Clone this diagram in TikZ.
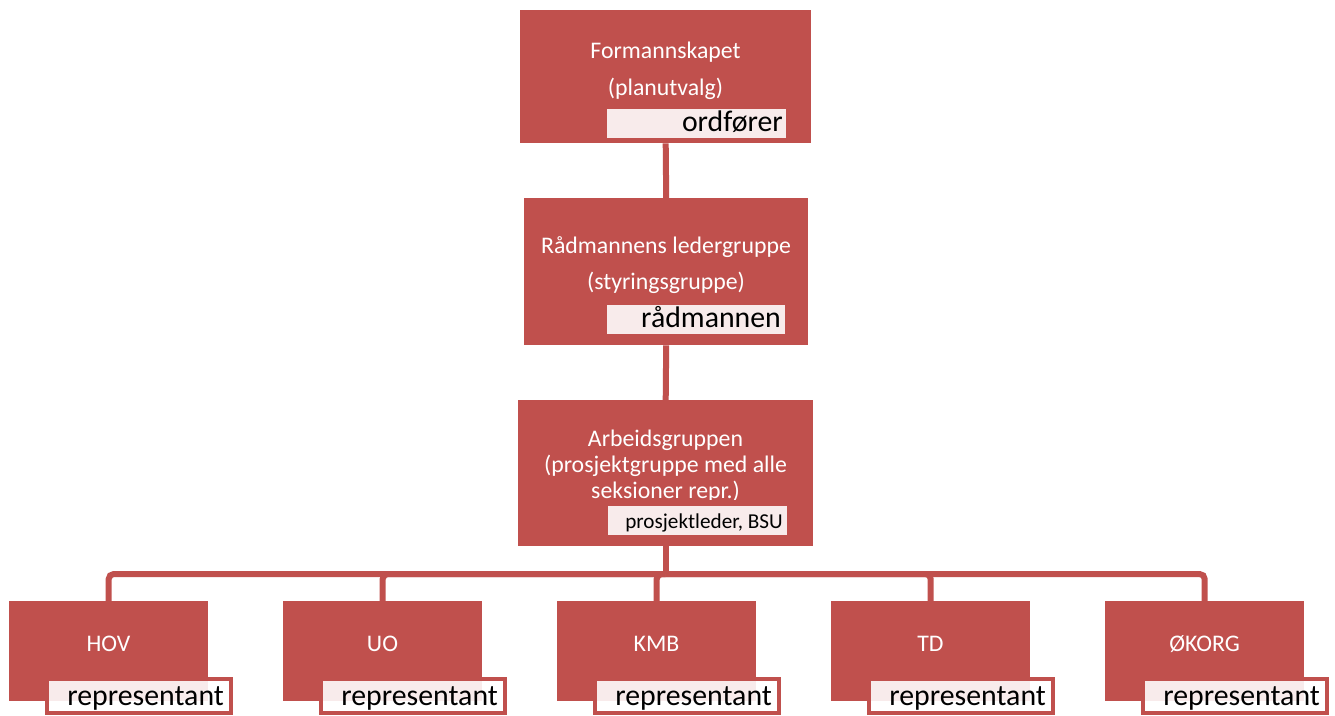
\documentclass[tikz,border=0pt]{standalone}
\usepackage{fontspec}
\setmainfont{Carlito}
\definecolor{boxred}{HTML}{C0504D}
\begin{document}
\begin{tikzpicture}[x=1pt,y=1pt,
  box/.style={fill=boxred, draw=none, inner sep=0pt, anchor=north west},
  wtext/.style={text=white, font=\fontsize{23.8}{26}\selectfont, inner sep=0pt, anchor=base},
  tagbox/.style={fill=white, fill opacity=0.89, draw=none, inner sep=0pt, anchor=north west},
  btag/.style={fill=white, fill opacity=0.89, draw=boxred, draw opacity=1, line width=4pt},
  ttext/.style={text=black, font=\fontsize{29.8}{32}\selectfont, inner sep=0pt, anchor=base east},
  stext/.style={text=black, font=\fontsize{21.2}{24}\selectfont, inner sep=0pt, anchor=base east},
  conn/.style={draw=boxred, line width=6pt}]
\useasboundingbox (0,0) rectangle (1335,-715);

% top box
\node[box, minimum width=291pt, minimum height=133pt] (form) at (520,-10) {};
\node[wtext] (form1) at (665.5,-58) {Formannskapet};
\node[wtext] (form2) at (665.5,-95) {(planutvalg)};
\node[tagbox, minimum width=179pt, minimum height=29pt] (formtag) at (607,-109) {};
\node[ttext] (formtagt) at (783,-131.5) {ordfører};

% second box
\node[box, minimum width=284pt, minimum height=147pt] (rad) at (524,-198) {};
\node[wtext] (rad1) at (666,-253) {Rådmannens ledergruppe};
\node[wtext] (rad2) at (666,-289) {(styringsgruppe)};
\node[tagbox, minimum width=178pt, minimum height=29pt] (radtag) at (607,-305) {};
\node[ttext] (radtagt) at (781,-327.5) {rådmannen};

% third box
\node[box, minimum width=295pt, minimum height=146pt] (arb) at (518,-400) {};
\begin{scope}
  \clip (518,-400) rectangle (813,-499.5);
  \node[wtext] (arb1) at (665.5,-446.5) {Arbeidsgruppen};
  \node[wtext] (arb2) at (665.5,-472.5) {(prosjektgruppe med alle};
  \node[wtext] (arb3) at (665.5,-498.5) {seksioner repr.)};
\end{scope}
\node[tagbox, minimum width=179pt, minimum height=29pt] (arbtag) at (608,-506) {};
\node[stext] (arbtagt) at (783,-528) {prosjektleder, BSU};

% connectors between top boxes
\draw[conn] (form.south) -- (rad.north);
\draw[conn] (rad.south) -- (arb.north);

% bottom boxes
\foreach \x/\n/\t in {9/hov/HOV, 283/uo/UO, 557/kmb/KMB, 831/td/TD, 1105/okorg/ØKORG}{
  \node[box, minimum width=199pt, minimum height=100pt] (\n) at (\x,-601) {};
  \node[wtext] (\n t) at (\x+99.5,-651) {\t};
  \draw[btag] (\x+38,-679) rectangle (\x+222,-713);
  \node[ttext] (\n r) at (\x+215,-705) {representant};
}

\coordinate (bar) at (0,-574);
\coordinate (junc) at (arb.south |- bar);
\draw[conn] (arb.south) -- (junc);
\foreach \n in {hov,uo,kmb,td,okorg}{
  \draw[conn, rounded corners=5pt] (junc) -| (\n.north);
}
\end{tikzpicture}
\end{document}
